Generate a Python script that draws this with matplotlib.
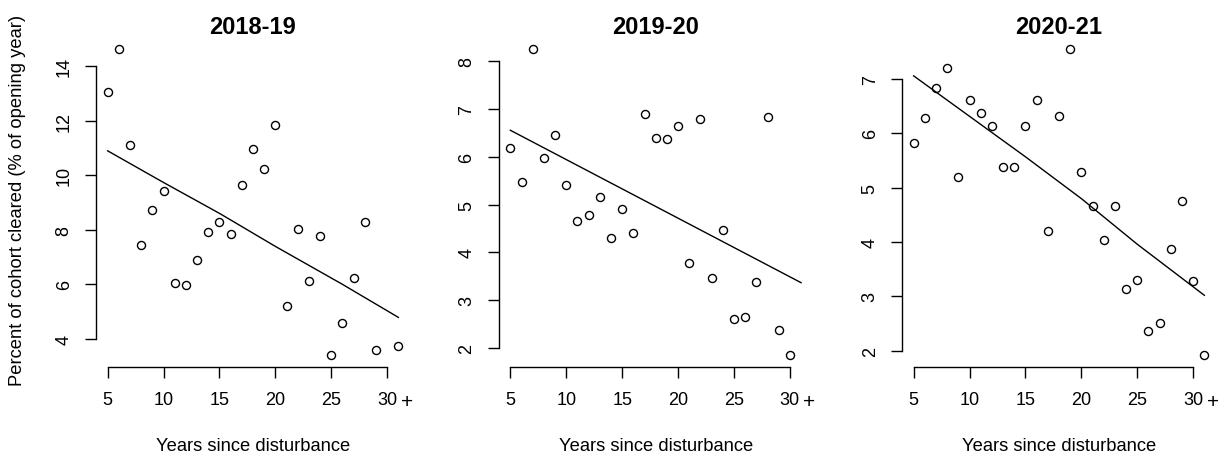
import matplotlib
matplotlib.use("Agg")
import matplotlib.pyplot as plt
import matplotlib.transforms as mtrans

plt.rcParams['font.family'] = ['Liberation Sans', 'DejaVu Sans']

titles = ["2018-19", "2019-20", "2020-21"]

x1 = [5, 6, 7, 8, 9, 10, 11, 12, 13, 14, 15, 16, 17, 18, 19, 20, 21, 22, 23, 24, 25, 26, 27, 28, 29, 31]
y1 = [13.05, 14.61, 11.10, 7.44, 8.73, 9.41, 6.05, 5.99, 6.89, 7.90, 8.27, 7.83, 9.63, 10.95, 10.23, 11.83,
      5.20, 8.04, 6.11, 7.77, 3.41, 4.57, 6.22, 8.29, 3.60, 3.73]
fx1 = [5, 10, 15, 20, 26, 31]
fy1 = [10.89, 9.73, 8.60, 7.39, 6.00, 4.79]

x2 = [5, 6, 7, 8, 9, 10, 11, 12, 13, 14, 15, 16, 17, 18, 19, 20, 21, 22, 23, 24, 25, 26, 27, 28, 29, 30]
y2 = [6.19, 5.48, 8.24, 5.97, 6.46, 5.41, 4.65, 4.79, 5.15, 4.31, 4.91, 4.41, 6.88, 6.39, 6.36, 6.63,
      3.78, 6.78, 3.46, 4.47, 2.61, 2.66, 3.38, 6.83, 2.38, 1.86]
fx2 = [5, 18, 31]
fy2 = [6.55, 4.96, 3.37]

x3 = [5, 6, 7, 8, 9, 10, 11, 12, 13, 14, 15, 16, 17, 18, 19, 20, 21, 22, 23, 24, 25, 26, 27, 28, 29, 30, 31]
y3 = [5.83, 6.28, 6.83, 7.20, 5.20, 6.62, 6.37, 6.13, 5.39, 5.39, 6.14, 6.61, 4.20, 6.33, 7.55, 5.29,
      4.66, 4.04, 4.66, 3.13, 3.31, 2.36, 2.51, 3.88, 4.75, 3.29, 1.92]
fx3 = [5, 15, 20, 25, 31]
fy3 = [7.06, 5.57, 4.80, 3.96, 3.02]

yticks = [[4, 6, 8, 10, 12, 14], [2, 3, 4, 5, 6, 7, 8], [2, 3, 4, 5, 6, 7]]
xticks = [5, 10, 15, 20, 25, 30]
xlabel = "Years since disturbance"
ylabel = "Percent of cohort cleared (% of opening year)"

W, H = 1218, 456
fig = plt.figure(figsize=(W / 100, H / 100), dpi=100)

lefts = [96, 498.7, 902]
width = 314
top, bottom = 38, 368.3

data = [(x1, y1, fx1, fy1), (x2, y2, fx2, fy2), (x3, y3, fx3, fy3)]

for i, (xs, ys, fx, fy) in enumerate(data):
    ax = fig.add_axes([lefts[i] / W, 1 - bottom / H, width / W, (bottom - top) / H])
    ax.plot(xs, ys, linestyle='none', marker='o', markersize=5.8, markerfacecolor='none',
            markeredgecolor='black', markeredgewidth=1.0)
    ax.plot(fx, fy, color='black', linewidth=1.0)
    ax.set_xlim(3.96, 32.04)
    rng = max(ys) - min(ys)
    ax.set_ylim(min(ys) - 0.04 * rng, max(ys) + 0.04 * rng)
    for s in ['top', 'right']:
        ax.spines[s].set_visible(False)
    ax.spines['left'].set_bounds(yticks[i][0], yticks[i][-1])
    ax.spines['bottom'].set_bounds(xticks[0], xticks[-1])
    for s in ['left', 'bottom']:
        ax.spines[s].set_linewidth(1.0)
    ax.set_xticks(xticks)
    ax.set_xticklabels([str(t) for t in xticks])
    ax.set_yticks(yticks[i])
    ax.set_yticklabels([str(t) for t in yticks[i]], rotation=90, va='center')
    ax.tick_params(axis='both', direction='out', length=7.8, width=1.0, labelsize=13)
    ax.tick_params(axis='x', pad=9.5)
    ax.tick_params(axis='y', pad=9)
    trans = mtrans.blended_transform_factory(ax.transData, fig.transFigure)
    ax.text(31.75, 1 - 403 / H, "+", transform=trans, ha='center', va='center', fontsize=15)
    cx = (lefts[i] + width / 2) / W
    fig.text(cx, 1 - 27 / H, titles[i], ha='center', va='center', fontsize=17, fontweight='bold')
    fig.text(cx, 1 - 447 / H, xlabel, ha='center', va='center', fontsize=13.2)

fig.text(18 / W, 1 - 200 / H, ylabel, rotation=90, ha='center', va='center', fontsize=13.2)

fig.savefig("out.png", dpi=100)
